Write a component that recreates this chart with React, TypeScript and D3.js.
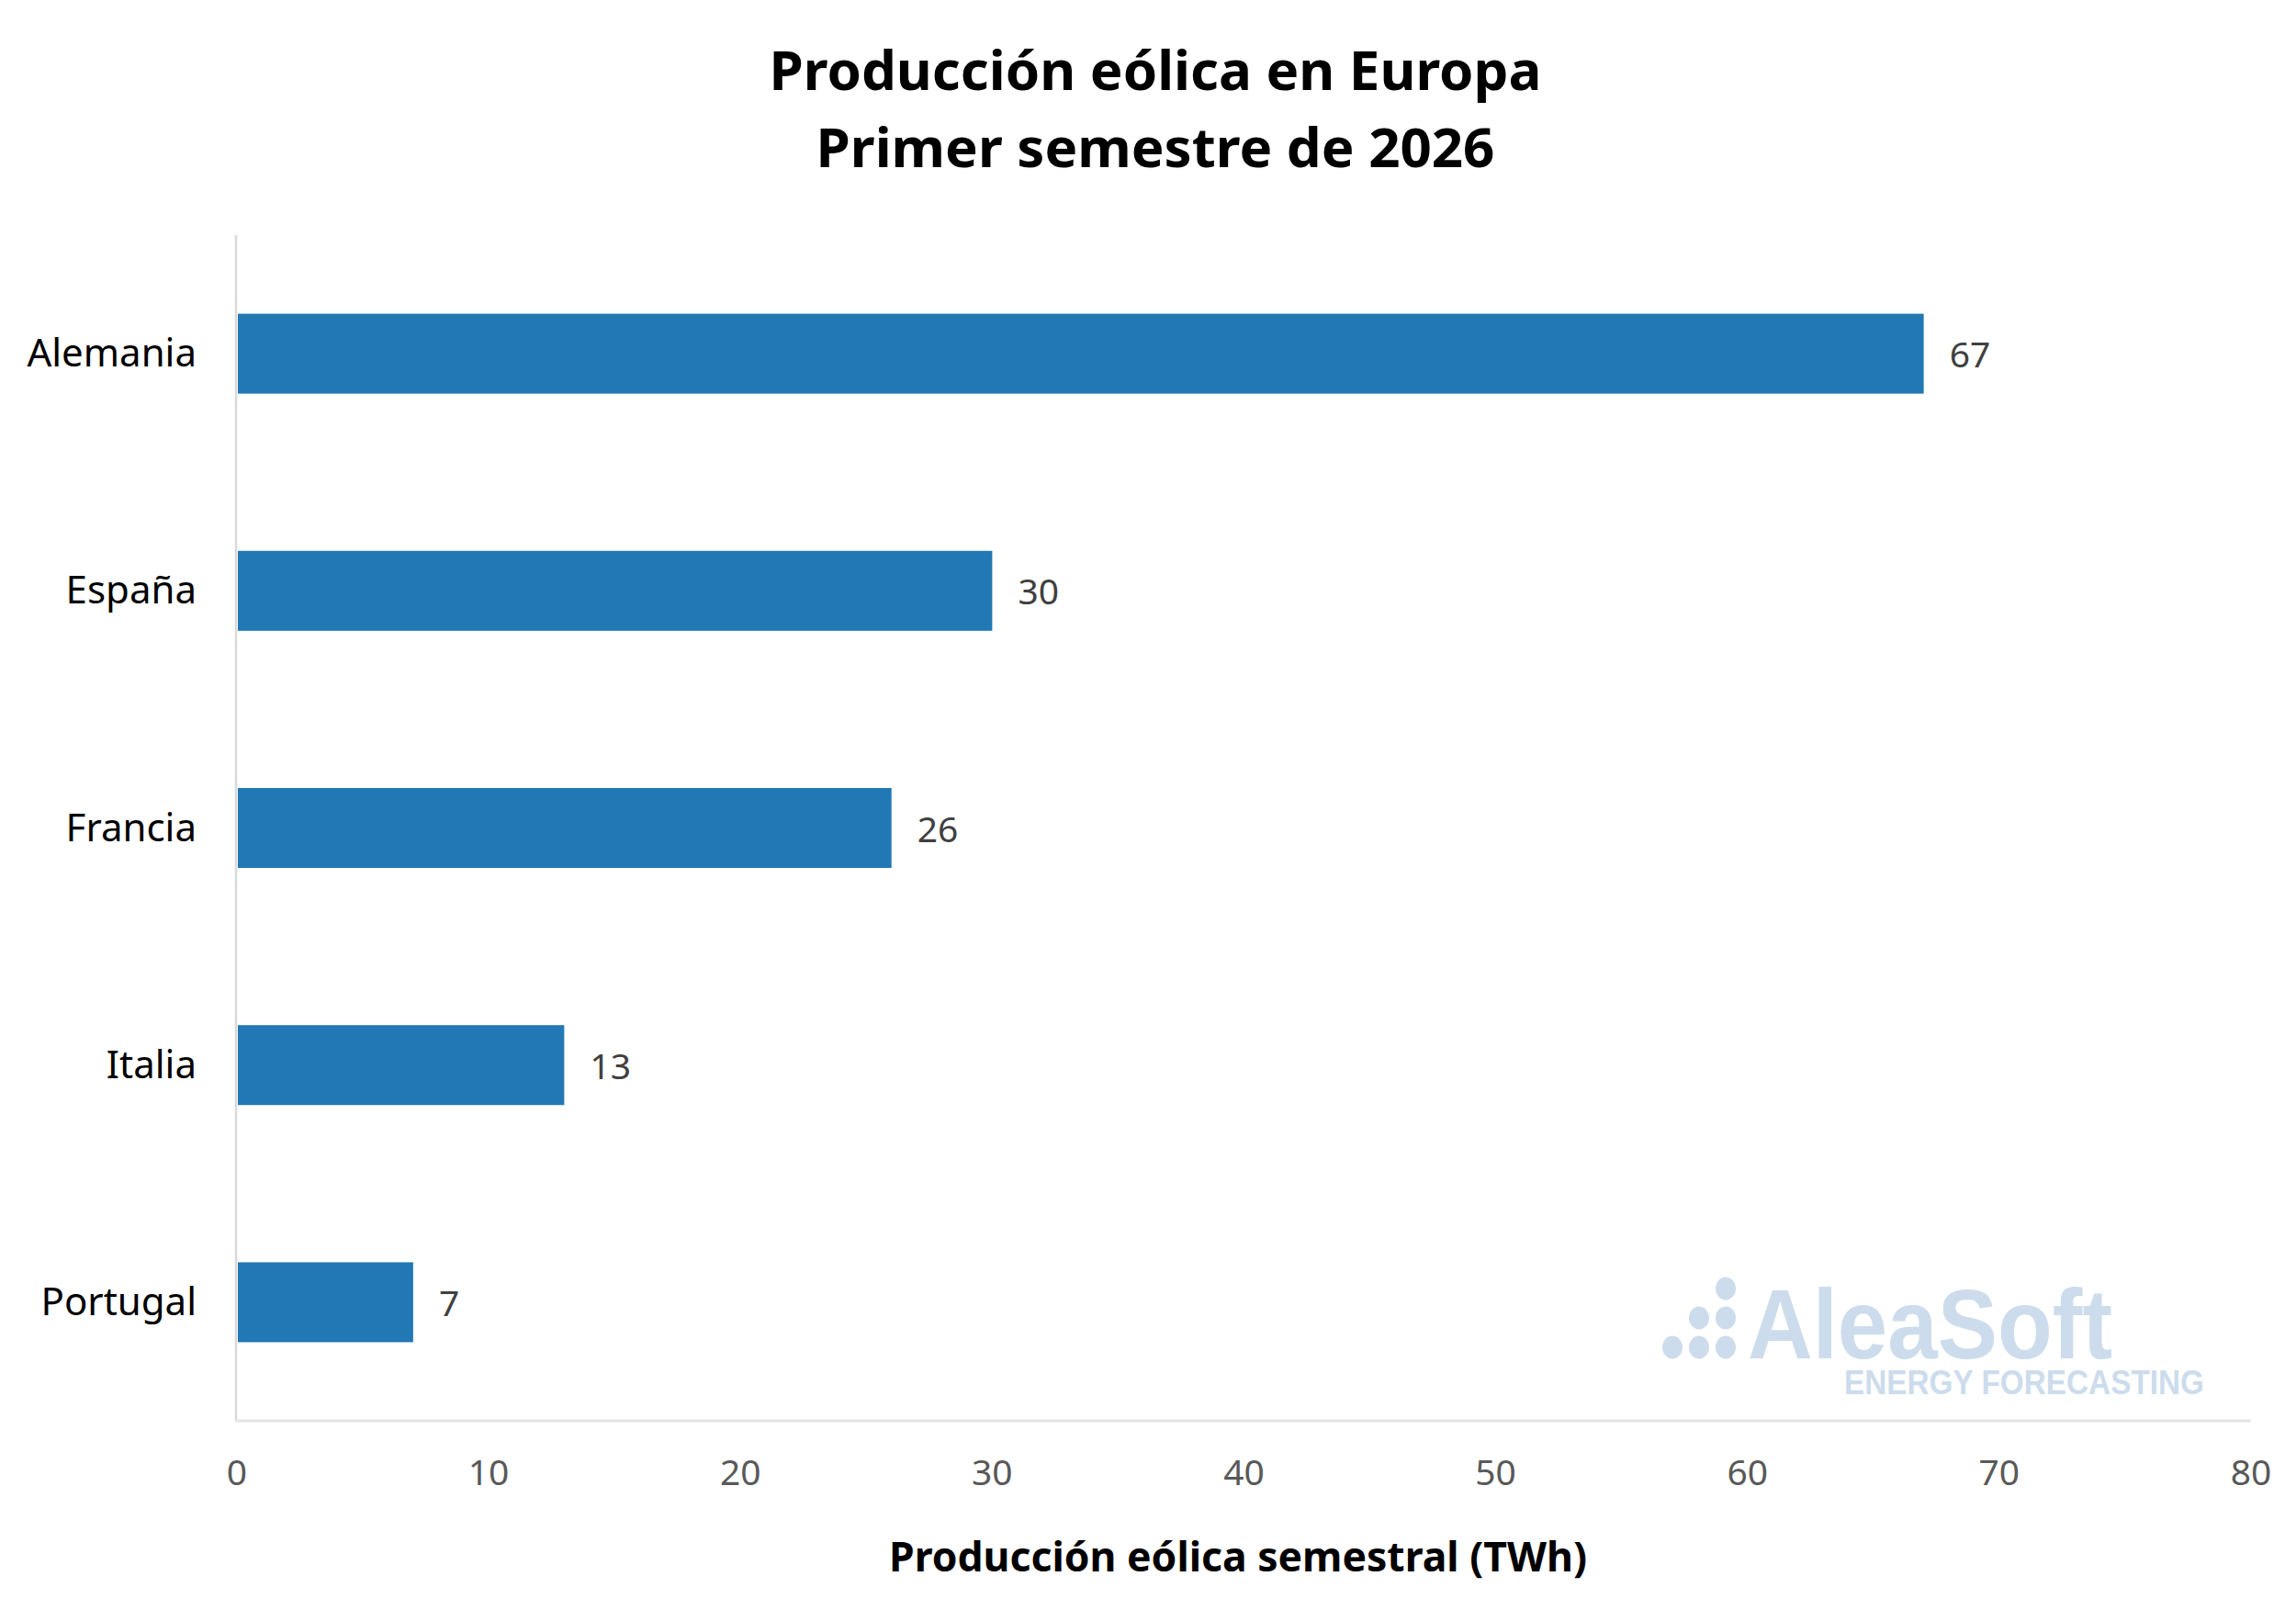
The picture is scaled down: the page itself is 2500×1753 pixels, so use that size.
import React, { useEffect, useRef } from 'react';
import * as d3 from 'd3';

const countries = ['Alemania', 'España', 'Francia', 'Italia', 'Portugal'];
const production = [67, 30, 26, 13, 7];
const xTicks = [0, 10, 20, 30, 40, 50, 60, 70, 80];
const titleLines = ['Producción eólica en Europa', 'Primer semestre de 2026'];
const xAxisTitle = 'Producción eólica semestral (TWh)';

const WIDTH = 2500;
const HEIGHT = 1753;
const FONT = "'Noto Sans', 'Open Sans', sans-serif";

const App: React.FC = () => {
  const svgRef = useRef<SVGSVGElement | null>(null);

  useEffect(() => {
    if (!svgRef.current) return;
    const svg = d3.select(svgRef.current);
    svg.selectAll('*').remove();

    const margin = { top: 256, right: 49, bottom: 206, left: 258 };
    const plotBottom = HEIGHT - margin.bottom;

    const x = d3.scaleLinear()
      .domain([0, 80])
      .range([margin.left, WIDTH - margin.right]);

    const y = d3.scaleBand()
      .domain(countries)
      .range([margin.top, plotBottom])
      .paddingInner(0.663)
      .paddingOuter(0.3315);

    svg.append('rect')
      .attr('width', WIDTH)
      .attr('height', HEIGHT)
      .attr('fill', '#ffffff');

    // title
    svg.append('g')
      .selectAll('text')
      .data(titleLines)
      .join('text')
      .attr('x', 1258)
      .attr('y', (d, i) => 98 + i * 84)
      .attr('text-anchor', 'middle')
      .attr('font-family', FONT)
      .attr('font-weight', 700)
      .attr('font-size', 60)
      .attr('fill', '#000000')
      .text(d => d);

    // bars
    const data = countries.map((c, i) => ({ name: c, value: production[i] }));

    svg.append('g')
      .selectAll('rect')
      .data(data)
      .join('rect')
      .attr('x', x(0) + 1)
      .attr('y', d => y(d.name)!)
      .attr('width', d => x(d.value) - x(0) - 1)
      .attr('height', y.bandwidth())
      .attr('fill', '#2178B4');

    // value labels
    svg.append('g')
      .selectAll('text')
      .data(data)
      .join('text')
      .attr('x', d => x(d.value) + 28)
      .attr('y', d => y(d.name)! + y.bandwidth() / 2 + 15)
      .attr('font-family', FONT)
      .attr('font-size', 39)
      .attr('fill', '#404040')
      .text(d => d.value);

    // category labels
    svg.append('g')
      .selectAll('text')
      .data(countries)
      .join('text')
      .attr('x', 214)
      .attr('y', d => y(d)! + y.bandwidth() / 2 + 14)
      .attr('text-anchor', 'end')
      .attr('font-family', FONT)
      .attr('font-size', 42)
      .attr('fill', '#000000')
      .text(d => d);

    // axis lines
    svg.append('line')
      .attr('x1', x(0) - 1)
      .attr('x2', x(0) - 1)
      .attr('y1', margin.top)
      .attr('y2', plotBottom)
      .attr('stroke', '#d9d9d9')
      .attr('stroke-width', 2.5);

    svg.append('line')
      .attr('x1', x(0) - 2)
      .attr('x2', x(80))
      .attr('y1', plotBottom)
      .attr('y2', plotBottom)
      .attr('stroke', '#e3e3e3')
      .attr('stroke-width', 3);

    // x tick labels
    svg.append('g')
      .selectAll('text')
      .data(xTicks)
      .join('text')
      .attr('x', d => x(d))
      .attr('y', 1617)
      .attr('text-anchor', 'middle')
      .attr('font-family', FONT)
      .attr('font-size', 39)
      .attr('fill', '#595959')
      .text(d => d);

    // x axis title
    svg.append('text')
      .attr('x', 1348)
      .attr('y', 1711)
      .attr('text-anchor', 'middle')
      .attr('font-family', FONT)
      .attr('font-weight', 700)
      .attr('font-size', 44.5)
      .attr('fill', '#000000')
      .text(xAxisTitle);

    // watermark
    const wm = svg.append('g').attr('fill', '#CCDCEC');
    const dots = [
      [1821, 1467], [1850, 1467], [1879, 1467],
      [1850, 1435], [1879, 1435],
      [1879, 1403],
    ];
    wm.selectAll('ellipse')
      .data(dots)
      .join('ellipse')
      .attr('cx', d => d[0])
      .attr('cy', d => d[1])
      .attr('rx', 11)
      .attr('ry', 12.5);
    wm.append('text')
      .attr('x', 1903)
      .attr('y', 1479)
      .attr('font-family', "'Liberation Sans', Arial, sans-serif")
      .attr('font-weight', 700)
      .attr('font-size', 108)
      .attr('textLength', 397)
      .attr('lengthAdjust', 'spacingAndGlyphs')
      .text('AleaSoft');
    wm.append('text')
      .attr('x', 2008)
      .attr('y', 1518)
      .attr('font-family', "'Liberation Sans', Arial, sans-serif")
      .attr('font-weight', 700)
      .attr('font-size', 37)
      .attr('textLength', 392)
      .attr('lengthAdjust', 'spacingAndGlyphs')
      .text('ENERGY FORECASTING');
  }, []);

  return (
    <div style={{ position: 'absolute', left: 0, top: 0 }}>
      <svg ref={svgRef} width={WIDTH} height={HEIGHT} style={{ display: 'block' }} />
    </div>
  );
};

export default App;
